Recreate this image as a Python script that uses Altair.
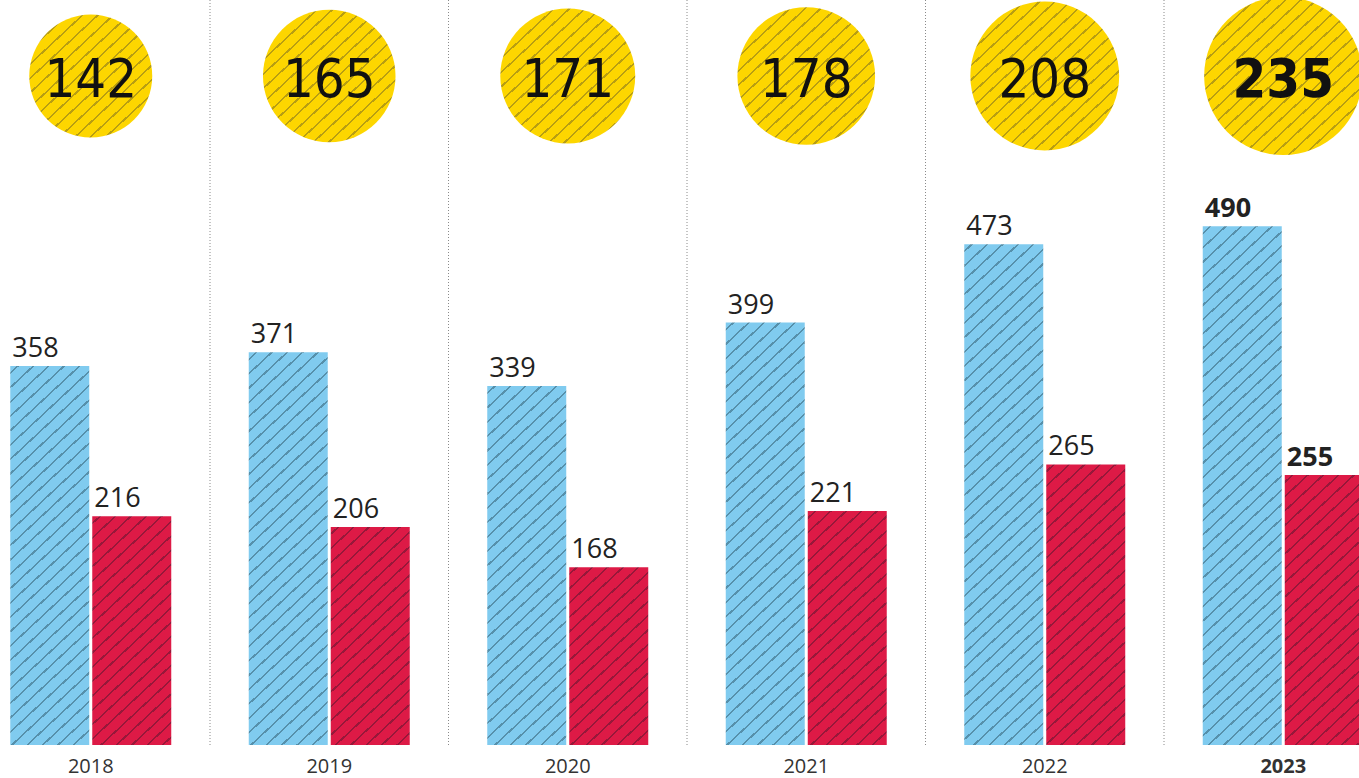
import math
import altair as alt
import pandas as pd

# ---- data ----
years = ["2018", "2019", "2020", "2021", "2022", "2023"]
circle_values = [142, 165, 171, 178, 208, 235]
blue_values = [358, 371, 339, 399, 473, 490]
red_values = [216, 206, 168, 221, 265, 255]

# ---- styling ----
BLUE, BLUE_LINE = "#80CBEF", "#5690ab"
RED, RED_LINE = "#DD1A46", "#97183a"
YEL, YEL_LINE = "#FDD600", "#b89e12"

W, H = 1359, 778
BASE_Y = 745
PX_PER_UNIT = 1.0587
Y_TOP = BASE_Y / PX_PER_UNIT
BAR_W = 79
CIRCLE_R_K = 5.16  # circle radius (px) per sqrt(unit)
SIZE_K = 4 * CIRCLE_R_K ** 2  # vega symbol size = (2r)^2

CIRCLE_FONT = "Noto Sans ExtraCondensed, Noto Sans Condensed, Liberation Sans Narrow, DejaVu Sans Condensed, sans-serif"


def stripes(w, h, base, line, theta=43, d=10.5, lw=1.6):
    s, c = math.sin(math.radians(theta)), math.cos(math.radians(theta))
    umax = w * s + h * c
    k = umax / (w * w * s * s + h * h * c * c)
    stops = [{"offset": 0, "color": base}]
    u = d / 2
    while u + lw < umax:
        t0, t1 = (u - lw / 2) / umax, (u + lw / 2) / umax
        stops += [
            {"offset": t0, "color": base},
            {"offset": t0, "color": line},
            {"offset": t1, "color": line},
            {"offset": t1, "color": base},
        ]
        u += d
    stops.append({"offset": 1, "color": base})
    return alt.LinearGradient(
        gradient="linear", stops=stops, x1=0, y1=0, x2=k * w * s, y2=k * h * c
    )


rows = []
for i, y in enumerate(years):
    rows.append({"year": y, "series": "a", "value": blue_values[i]})
    rows.append({"year": y, "series": "b", "value": red_values[i]})
bars = pd.DataFrame(rows)
circles = pd.DataFrame({"year": years, "circle": circle_values})
yr = pd.DataFrame({"year": years})

xscale = alt.Scale(domain=years, range=[-28.5, 1402.5], paddingInner=0, paddingOuter=0)
xoscale = alt.Scale(domain=["a", "b"], paddingInner=0.0366, paddingOuter=0.4726)
yscale = alt.Scale(domain=[0, Y_TOP], range=[BASE_Y, 0])

X = alt.X("year:N", scale=xscale, axis=None)
XO = alt.XOffset("series:N", scale=xoscale)
Y = alt.Y("value:Q", scale=yscale, axis=None)

layers = []

# separators
layers.append(
    alt.Chart(yr)
    .transform_filter(alt.datum.year != "2018")
    .mark_rule(color="#8a8a8a", strokeWidth=1, strokeDash=[1, 2])
    .encode(
        x=alt.X("year:N", scale=xscale, axis=None, bandPosition=0),
        y=alt.value(0),
        y2=alt.value(BASE_Y),
    )
)

# bars with hatched fills
for i, y in enumerate(years):
    for ser, vals, base, line in (("a", blue_values, BLUE, BLUE_LINE), ("b", red_values, RED, RED_LINE)):
        h = vals[i] * PX_PER_UNIT
        layers.append(
            alt.Chart(bars)
            .transform_filter((alt.datum.year == y) & (alt.datum.series == ser))
            .mark_bar(fill=stripes(BAR_W, h, base, line), strokeWidth=0)
            .encode(x=X, xOffset=XO, y=Y)
        )

# circles
for i, y in enumerate(years):
    r = CIRCLE_R_K * math.sqrt(circle_values[i])
    layers.append(
        alt.Chart(circles)
        .transform_filter(alt.datum.year == y)
        .mark_point(shape="circle", filled=True, opacity=1,
                    fill=stripes(2 * r, 2 * r, YEL, YEL_LINE), strokeWidth=0)
        .encode(
            x=X,
            y=alt.value(76),
            size=alt.Size("circle:Q", legend=None,
                          scale=alt.Scale(type="linear", domain=[0, 235], range=[0, SIZE_K * 235])),
        )
    )

# circle numbers
for cond, weight in ((alt.datum.year != "2023", "normal"), (alt.datum.year == "2023", "bold")):
    layers.append(
        alt.Chart(circles)
        .transform_filter(cond)
        .mark_text(font=CIRCLE_FONT,
                   fontSize=54, fontWeight=weight, color="#111111",
                   align="center", baseline="alphabetic")
        .encode(x=X, y=alt.value(97), text="circle:Q")
    )
    # value labels
    layers.append(
        alt.Chart(bars)
        .transform_filter(cond)
        .mark_text(font="Open Sans", fontSize=27, fontWeight=weight, color="#222222",
                   align="left", baseline="alphabetic", dx=-37.5, dy=-9)
        .encode(x=X, xOffset=XO, y=Y, text="value:Q")
    )
    # year labels
    layers.append(
        alt.Chart(yr)
        .transform_filter(cond)
        .mark_text(font="Open Sans", fontSize=20, fontWeight=weight, color="#333333",
                   align="center", baseline="alphabetic")
        .encode(x=X, y=alt.value(773), text="year:N")
    )

chart = (
    alt.layer(*layers)
    .properties(width=W, height=H, background="white", padding=0,
                autosize=alt.AutoSizeParams(type="none"))
    .configure_view(stroke=None)
)

chart.save("out.html", embed_options={"renderer": "svg", "actions": False})
